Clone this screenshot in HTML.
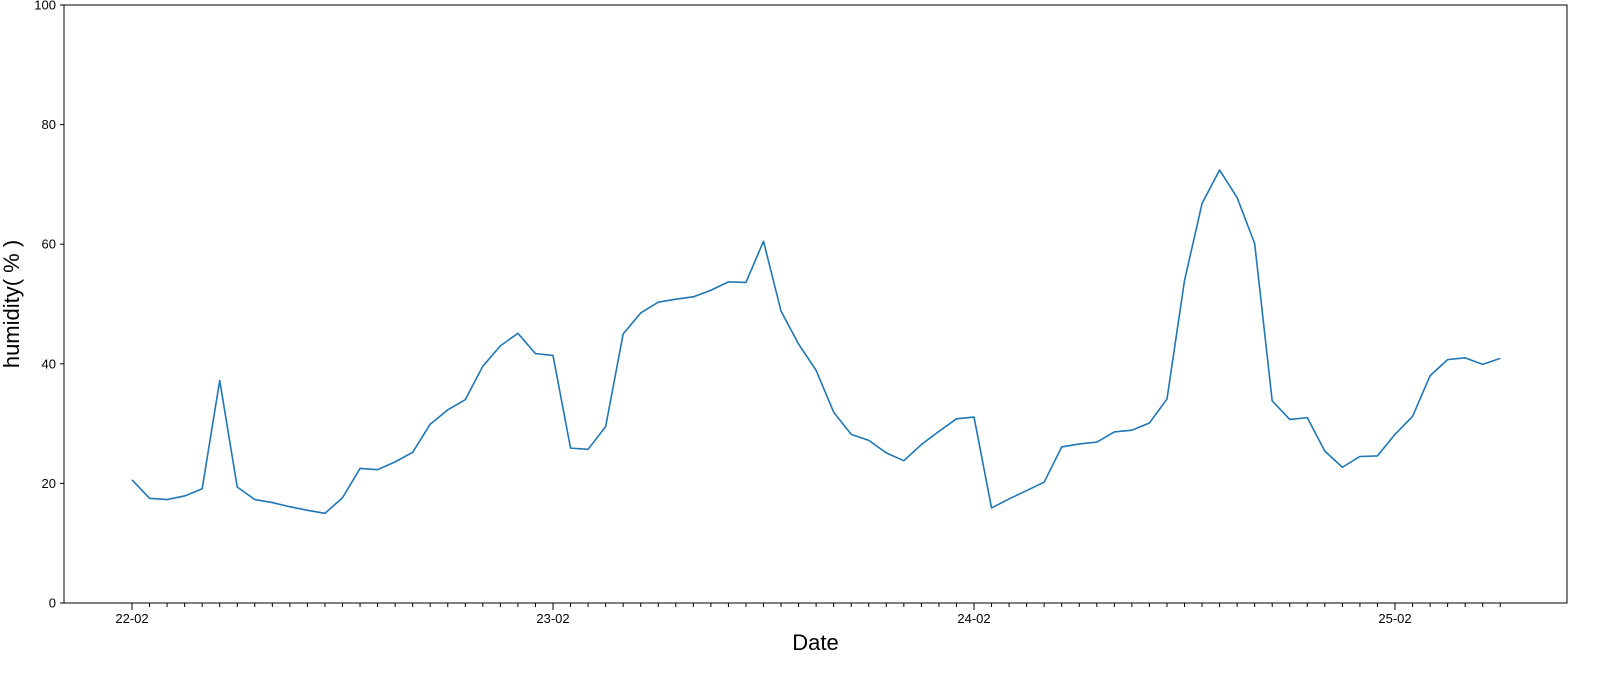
<!DOCTYPE html>
<html><head><meta charset="utf-8">
<style>
html,body{margin:0;padding:0;background:#fff;}
svg{display:block;font-family:"Liberation Sans","DejaVu Sans",sans-serif;}
</style></head>
<body>
<svg id="chart" width="1615" height="674" xmlns="http://www.w3.org/2000/svg"></svg>
<script>
const humidity = [20.6,17.5,17.3,17.9,19.1,37.2,19.4,17.3,16.8,16.1,15.5,15.0,17.6,22.5,22.3,23.6,25.2,29.9,32.3,34.0,39.6,43.0,45.1,41.7,
41.4,25.9,25.7,29.5,45.0,48.5,50.3,50.8,51.2,52.3,53.7,53.6,60.5,48.8,43.3,38.9,31.9,28.2,27.2,25.1,23.8,26.5,28.7,30.8,
31.1,15.9,17.4,18.8,20.2,26.1,26.6,26.9,28.6,28.9,30.1,34.1,53.9,66.8,72.4,67.8,60.1,33.8,30.7,31.0,25.4,22.7,24.5,24.6,
28.2,31.2,38.0,40.7,41.0,39.9,40.9];
const dayLabels = ["22-02","23-02","24-02","25-02"];
const yTicks = [0,20,40,60,80,100];

const NS="http://www.w3.org/2000/svg";
const svg=document.getElementById('chart');
const L=64,R=1567,T=5,B=603;
const x0=132, dayW=421;
const xs=h=>x0+h*dayW/24;
const ys=v=>B-(v/100)*(B-T);
function mk(tag,attrs,parent){const e=document.createElementNS(NS,tag);for(const k in attrs)e.setAttribute(k,attrs[k]);(parent||svg).appendChild(e);return e;}

// frame
const frame=mk('rect',{x:L,y:T,width:R-L,height:B-T,fill:'none',stroke:'#000','stroke-width':1});



// y ticks
yTicks.forEach(v=>{
  const t=mk('line',{x1:L-4,x2:L,y1:ys(v),y2:ys(v),stroke:'#000'});
  
  
  const lb=mk('text',{x:L-8,y:ys(v)+4.5,'text-anchor':'end','font-size':13});
  lb.textContent=v;
  
  
});
// x minor ticks (hourly)
for(let h=0;h<humidity.length;h++){
  const major=h%24===0;
  const t=mk('line',{x1:xs(h),x2:xs(h),y1:B,y2:B+(major?7:4),stroke:'#000'});
  
  
}
dayLabels.forEach((d,i)=>{
  const lb=mk('text',{x:xs(i*24),y:B+20,'text-anchor':'middle','font-size':13});
  lb.textContent=d;
  
  
});
// line
const pts=humidity.map((v,i)=>xs(i).toFixed(2)+','+ys(v).toFixed(2)).join(' ');
const line=mk('polyline',{points:pts,fill:'none',stroke:'#1f77b4','stroke-width':1.6,'stroke-linejoin':'round'});


// axis titles
const xt=mk('text',{x:(L+R)/2,y:650,'text-anchor':'middle','font-size':22});
xt.textContent='Date';


const yt=mk('text',{x:0,y:0,'text-anchor':'middle','font-size':22,transform:'translate(19,'+((T+B)/2)+') rotate(-90)'});
yt.textContent='humidity( % )';


</script>
</body></html>
